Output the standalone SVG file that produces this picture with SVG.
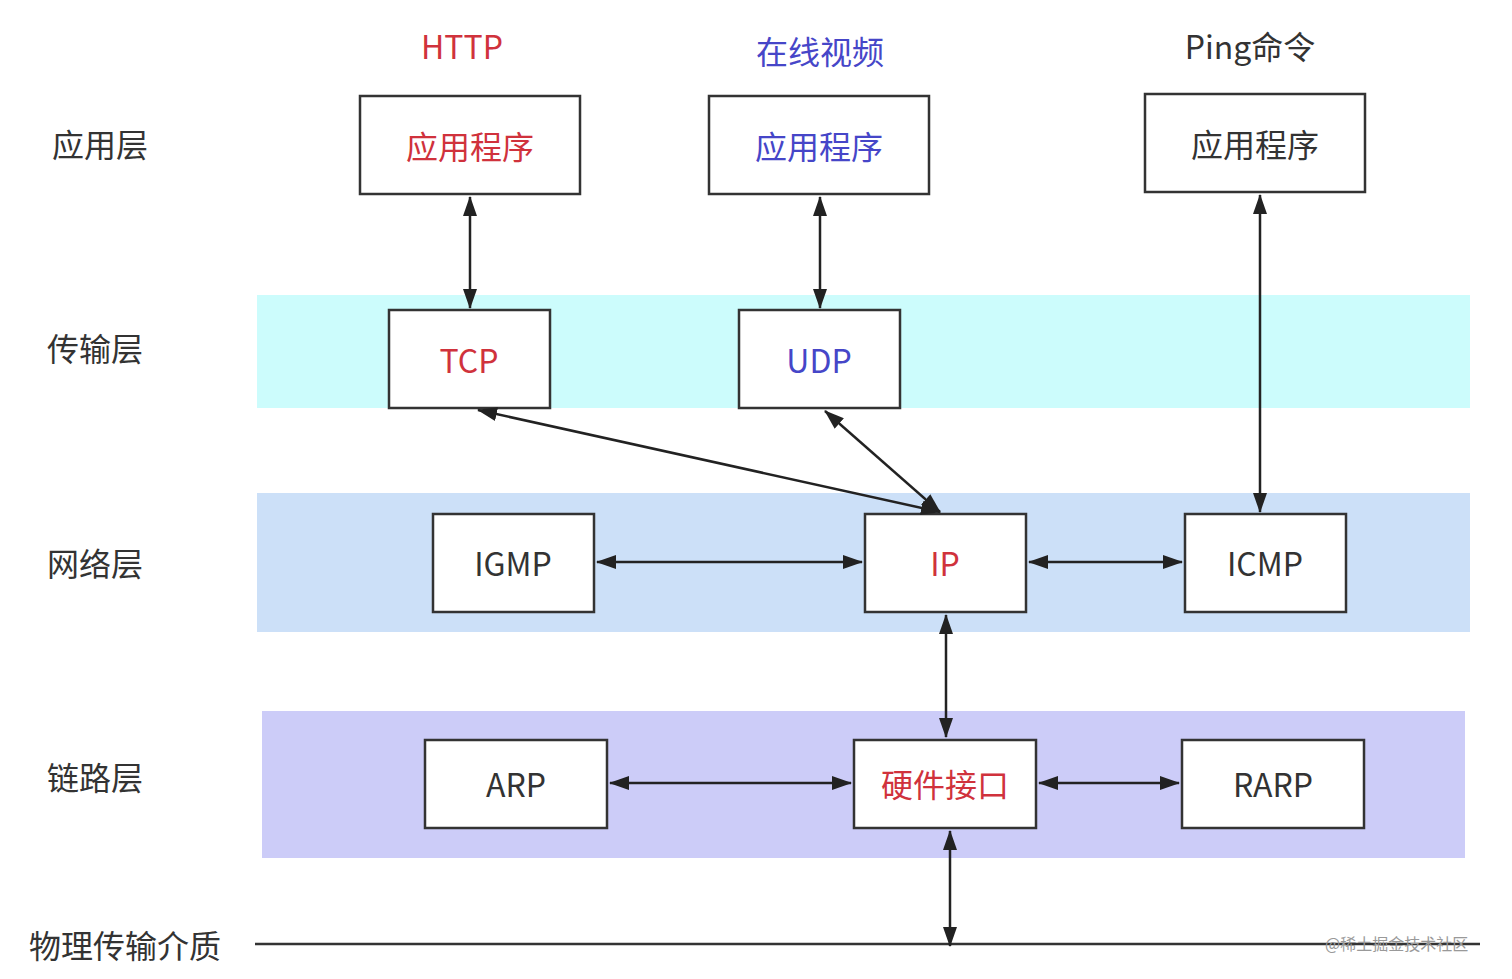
<svg xmlns="http://www.w3.org/2000/svg" width="1512" height="979" viewBox="0 0 1512 979">
<style>
.box{fill:#fff;stroke:#333;stroke-width:2.5}
.t{font-family:"Noto Sans CJK SC","Liberation Sans",sans-serif;font-size:32px;text-anchor:middle;dominant-baseline:central;fill:#333}
.r{fill:#d0323c}.b{fill:#4646c8}
.c{stroke:#222;stroke-width:2.5;fill:none;marker-start:url(#a);marker-end:url(#a)}
</style>
<defs><marker id="a" viewBox="0 0 20 14" refX="19" refY="7" markerWidth="20" markerHeight="14" orient="auto-start-reverse" markerUnits="userSpaceOnUse"><path d="M0,0 L20,7 L0,14 z" fill="#222"/></marker></defs>
<rect width="1512" height="979" fill="#fff"/>
<rect x="257" y="295" width="1213" height="113" fill="#ccfcfc"/>
<rect x="257" y="493" width="1213" height="139" fill="#cce0f8"/>
<rect x="262" y="711" width="1203" height="147" fill="#ccccf8"/>
<g id="labels">
<text class="t" x="100" y="143">应用层</text>
<text class="t" x="95" y="347">传输层</text>
<text class="t" x="95" y="562">网络层</text>
<text class="t" x="95" y="776">链路层</text>
<text class="t" x="125" y="944">物理传输介质</text>
<text class="t r" x="462" y="45">HTTP</text>
<text class="t b" x="820" y="50">在线视频</text>
<text class="t" x="1250" y="45">Ping命令</text>
</g>
<line x1="255" y1="944" x2="1480" y2="944" stroke="#333" stroke-width="2.5"/>
<text x="1325" y="943" font-family="Noto Sans CJK SC,sans-serif" font-size="16" fill="#999" dominant-baseline="central">@稀土掘金技术社区</text>
<g id="app1"><rect class="box" x="360" y="96" width="220" height="98"/><text class="t r" x="470" y="145">应用程序</text></g>
<g id="app2"><rect class="box" x="709" y="96" width="220" height="98"/><text class="t b" x="819" y="145">应用程序</text></g>
<g id="app3"><rect class="box" x="1145" y="94" width="220" height="98"/><text class="t" x="1255" y="143">应用程序</text></g>
<g id="tcp"><rect class="box" x="389" y="310" width="161" height="98"/><text class="t r" x="469" y="359">TCP</text></g>
<g id="udp"><rect class="box" x="739" y="310" width="161" height="98"/><text class="t b" x="819" y="359">UDP</text></g>
<g id="igmp"><rect class="box" x="433" y="514" width="161" height="98"/><text class="t" x="513" y="562">IGMP</text></g>
<g id="ip"><rect class="box" x="865" y="514" width="161" height="98"/><text class="t r" x="945" y="562">IP</text></g>
<g id="icmp"><rect class="box" x="1185" y="514" width="161" height="98"/><text class="t" x="1265" y="562">ICMP</text></g>
<g id="arp"><rect class="box" x="425" y="740" width="182" height="88"/><text class="t" x="516" y="783">ARP</text></g>
<g id="hw"><rect class="box" x="854" y="740" width="182" height="88"/><text class="t r" x="945" y="783">硬件接口</text></g>
<g id="rarp"><rect class="box" x="1182" y="740" width="182" height="88"/><text class="t" x="1273" y="783">RARP</text></g>
<g id="connectors">
<line class="c" x1="470" y1="197" x2="470" y2="308"/>
<line class="c" x1="820" y1="197" x2="820" y2="308"/>
<line class="c" x1="1260" y1="195" x2="1260" y2="512"/>
<line class="c" x1="478" y1="410" x2="940" y2="512"/>
<line class="c" x1="825" y1="411" x2="940" y2="512"/>
<line class="c" x1="597" y1="562" x2="862" y2="562"/>
<line class="c" x1="1029" y1="562" x2="1182" y2="562"/>
<line class="c" x1="946" y1="615" x2="946" y2="737"/>
<line class="c" x1="610" y1="783" x2="851" y2="783"/>
<line class="c" x1="1039" y1="783" x2="1179" y2="783"/>
<line class="c" x1="950" y1="831" x2="950" y2="946"/>
</g>
</svg>
